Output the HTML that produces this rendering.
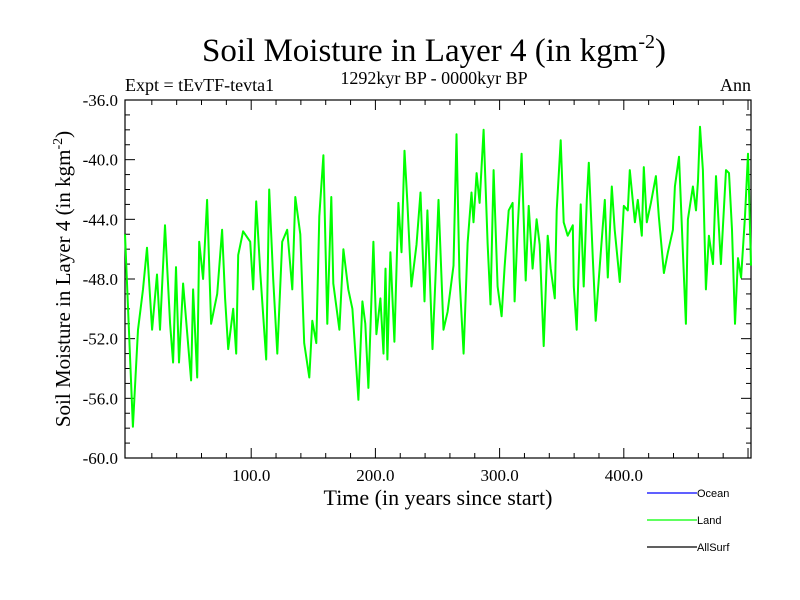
<!DOCTYPE html>
<html><head><meta charset="utf-8"><style>
html,body{margin:0;padding:0;background:#fff;width:800px;height:600px;overflow:hidden}
svg text{font-family:"Liberation Serif",serif}
</style></head><body>
<svg id="chart" width="800" height="600" xmlns="http://www.w3.org/2000/svg">
<text x="434" y="61" font-size="33" text-anchor="middle">Soil Moisture in Layer 4 (in kgm<tspan dy="-13" font-size="20">-2</tspan><tspan dy="13">)</tspan></text>
<text x="125" y="91" font-size="18">Expt = tEvTF-tevta1</text>
<text x="434" y="84" font-size="18" text-anchor="middle">1292kyr BP - 0000kyr BP</text>
<text x="751" y="91" font-size="18" text-anchor="end">Ann</text>
<g id="axes"></g>
<g id="series"></g>
<text x="438" y="505" font-size="22" text-anchor="middle">Time (in years since start)</text>
<text transform="translate(70,279) rotate(-90)" font-size="21" text-anchor="middle">Soil Moisture in Layer 4 (in kgm<tspan dy="-8" font-size="14">-2</tspan><tspan dy="8">)</tspan></text>
<g>
<line x1="647" y1="493" x2="697" y2="493" stroke="#0000ff" stroke-width="1.3"/>
<text x="697" y="497" font-size="11" style="font-family:'Liberation Sans',sans-serif">Ocean</text>
<line x1="647" y1="520" x2="697" y2="520" stroke="#00ff00" stroke-width="1.3"/>
<text x="697" y="524" font-size="11" style="font-family:'Liberation Sans',sans-serif">Land</text>
<line x1="647" y1="547" x2="697" y2="547" stroke="#000" stroke-width="1.3"/>
<text x="697" y="551" font-size="11" style="font-family:'Liberation Sans',sans-serif">AllSurf</text>
</g>
</svg>
<script>
const years=[-1.6,4.8,8.9,12.9,16.1,20.2,24.2,26.6,30.6,34.7,37.1,39.5,41.9,45.2,51.6,53.2,56.5,58.1,61.3,64.5,67.7,72.6,76.6,79,81.5,85.5,87.9,89.5,93.5,99.2,101.6,104,107.3,112.1,114.5,117.7,121,125,129,133.1,135.5,139.5,142.7,146.8,149.2,152.4,154.8,158.1,161.3,164.5,166.1,171,174.2,178.2,181.5,183.9,186.3,189.5,191.9,194.4,198.4,200.8,204,206.5,208.1,209.7,212.1,215.3,218.5,221,223.4,225.8,229,233.1,236.3,239.5,241.9,246,248.4,250.8,254.8,258.1,262.9,265.3,267.7,271,274.2,277.4,279,281.5,283.9,287.1,290.3,292.7,295.2,298.4,301.6,304,307.3,310.5,312.1,314.5,317.7,321,323.4,326.6,329.8,332.3,335.5,338.7,341.1,344.4,346,349.2,351.6,354.8,358.9,359.7,362.1,365.3,367.7,370.2,371.8,375,377.4,381.5,384.7,387.1,390.3,392.7,396.8,400,403.2,404.8,408.9,411.3,414.5,416.1,418.5,421.8,425.8,428.2,432.3,435.5,439.5,441.1,444.4,447.6,450,451.6,455.6,458.1,459.7,461.3,463.7,466.1,468.5,471.8,474.2,478.2,482.3,484.7,487.1,489.5,491.9,494.4,497.6,500,502.4];
const landValues=[-45,-57.9,-51.4,-48.7,-45.9,-51.4,-47.7,-51.4,-44.4,-51,-53.6,-47.2,-53.6,-48.3,-54.8,-48.7,-54.6,-45.5,-48,-42.7,-51,-49,-44.7,-49.3,-52.7,-50,-53,-46.4,-44.8,-45.5,-48.7,-42.8,-47.6,-53.4,-42,-48,-53,-45.5,-44.7,-48.7,-42.5,-45,-52.3,-54.6,-50.8,-52.3,-43.8,-39.7,-51,-42.5,-48.3,-51.4,-46,-48.7,-50,-53,-56.1,-49.5,-51,-55.3,-45.5,-51.7,-49.3,-53,-47.3,-53.4,-46.2,-52.2,-42.9,-46.2,-39.4,-42.9,-48.5,-45.7,-42.2,-49.5,-43.4,-52.7,-47.9,-42.7,-51.4,-50.2,-47.1,-38.3,-47.9,-53,-45.6,-42.2,-44.2,-40.9,-42.9,-38,-45.6,-49.7,-40.7,-48.5,-50.5,-47.2,-43.4,-42.9,-49.5,-44.7,-39.6,-48.1,-43.1,-47.3,-44,-45.7,-52.5,-45.1,-47.3,-49.3,-43.4,-38.7,-44.2,-45.1,-44.4,-48.5,-51.4,-43,-48.5,-42.7,-40.2,-46.6,-50.8,-46.2,-42.7,-47.9,-41.8,-44.7,-48.2,-43.1,-43.4,-40.7,-44.2,-42.7,-45.1,-40.5,-44.2,-42.9,-41.1,-43.8,-47.6,-46.2,-44.7,-41.8,-39.8,-46.2,-51,-44,-41.8,-43.4,-41.4,-37.8,-40.7,-48.7,-45.1,-47,-41.1,-47,-40.7,-40.9,-44.7,-51,-46.6,-47.9,-43.8,-39.6,-47.1];
const xTickValues=[100,200,300,400];
const xTickLabels=["100.0","200.0","300.0","400.0"];
const yTickValues=[-60,-56,-52,-48,-44,-40,-36];
const yTickLabels=["-60.0","-56.0","-52.0","-48.0","-44.0","-40.0","-36.0"];

const L=125,R=751,T=100,B=458,XMIN=-1.6,XMAX=502.4,YMIN=-60,YMAX=-36;
const NS="http://www.w3.org/2000/svg";
function xs(v){return L+(v-XMIN)/(XMAX-XMIN)*(R-L);}
function ys(v){return B-(v-YMIN)/(YMAX-YMIN)*(B-T);}
const axes=document.getElementById('axes');
function mk(tag,attrs,parent){const e=document.createElementNS(NS,tag);for(const k in attrs)e.setAttribute(k,attrs[k]);parent.appendChild(e);return e;}
let fr=mk('rect',{x:L,y:T,width:R-L,height:B-T,fill:'none',stroke:'#000','stroke-width':1.2},axes);


for(let v=20;v<XMAX;v+=20){
  const major=v%100===0,len=major?10:5,x=xs(v);
  let t1=mk('line',{x1:x,y1:B,x2:x,y2:B-len,stroke:'#000','stroke-width':1},axes);
  
  
  let t2=mk('line',{x1:x,y1:T,x2:x,y2:T+len,stroke:'#000','stroke-width':1},axes);
  
  
}
for(let v=YMIN+1;v<YMAX;v+=1){
  const major=(v-YMIN)%4===0,len=major?10:5,y=ys(v);
  let t1=mk('line',{x1:L,y1:y,x2:L+len,y2:y,stroke:'#000','stroke-width':1},axes);
  
  
  let t2=mk('line',{x1:R,y1:y,x2:R-len,y2:y,stroke:'#000','stroke-width':1},axes);
  
  
}
xTickValues.forEach((v,i)=>{
  const t=mk('text',{x:xs(v),y:B+23,'font-size':17,'text-anchor':'middle'},axes);
  t.textContent=xTickLabels[i];
  
  
});
yTickValues.forEach((v,i)=>{
  const t=mk('text',{x:L-7,y:ys(v)+6,'font-size':17,'text-anchor':'end'},axes);
  t.textContent=yTickLabels[i];
  
  
});
const series=document.getElementById('series');
const pts=years.map((yr,i)=>xs(yr).toFixed(1)+','+ys(landValues[i]).toFixed(1)).join(' ');
const line=mk('polyline',{points:pts,fill:'none',stroke:'#00ff00','stroke-width':2,'stroke-linejoin':'round'},series);


</script>
</body></html>
